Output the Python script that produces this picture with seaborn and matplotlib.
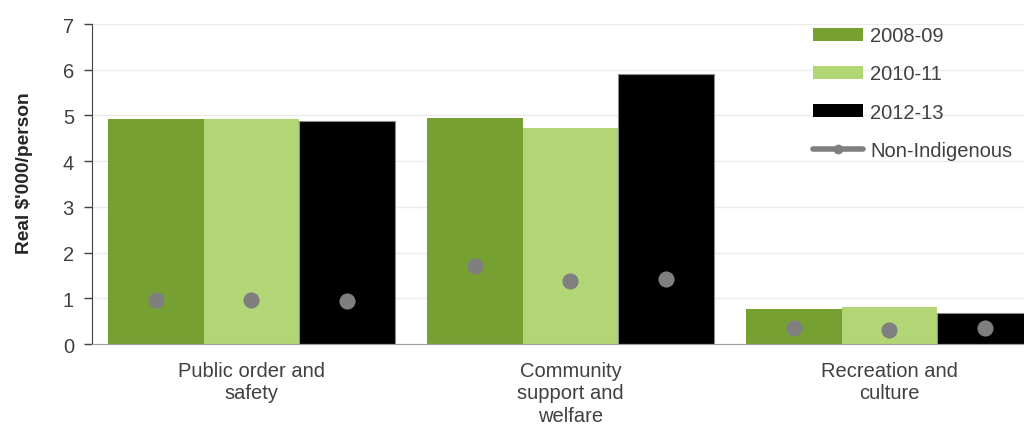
import pandas as pd
import matplotlib
matplotlib.use('Agg')
import matplotlib.pyplot as plt
from matplotlib.patches import Patch
from matplotlib.lines import Line2D
import seaborn as sns

# data
categories = ['Public order and\nsafety', 'Community\nsupport and\nwelfare', 'Recreation and\nculture']
years = ['2008-09', '2010-11', '2012-13']
indig_2008 = [4.93, 4.95, 0.76]
indig_2010 = [4.93, 4.73, 0.82]
indig_2012 = [4.87, 5.91, 0.67]
nonindig_2008 = [0.97, 1.70, 0.34]
nonindig_2010 = [0.97, 1.37, 0.31]
nonindig_2012 = [0.95, 1.42, 0.34]

colors = ['#77a033', '#b2d675', '#000000']
dot_color = '#7f7f7f'
text_color = '#404040'

rows = []
for yr, vals in zip(years, [indig_2008, indig_2010, indig_2012]):
    for cat, v in zip(categories, vals):
        rows.append({'category': cat, 'year': yr, 'value': v})
df = pd.DataFrame(rows)
non_vals = [nonindig_2008, nonindig_2010, nonindig_2012]

sns.set_style('white')
plt.rcParams['font.family'] = ['Liberation Sans', 'DejaVu Sans']
plt.rcParams['text.color'] = text_color
plt.rcParams['xtick.color'] = text_color
plt.rcParams['ytick.color'] = text_color

fig = plt.figure(figsize=(10.24, 4.27), dpi=100)
ax = fig.add_axes([0.0898, 0.192, 0.9346, 0.7494])

sns.barplot(data=df, x='category', y='value', hue='year', palette=colors,
            width=0.9, gap=0, saturation=1, legend=False, linewidth=0, ax=ax)

# non-Indigenous dots on top of each bar
for cont, vals in zip(ax.containers, non_vals):
    xs = [b.get_x() + b.get_width() / 2 for b in cont]
    ax.scatter(xs, vals, s=135, color=dot_color, zorder=5, linewidths=0)
for b in ax.containers[2]:
    b.set_edgecolor('#8c8c8c')
    b.set_linewidth(0.8)

ax.set_xlim(-0.5, 2.5)
ax.set_ylim(0, 7)
ax.set_yticks(range(0, 8))
ax.yaxis.grid(True, color='#ebebeb', linewidth=1)
ax.set_axisbelow(True)

sns.despine(ax=ax, top=True, right=True)
ax.spines['left'].set_color('#404040')
ax.spines['bottom'].set_color('#a0a0a0')
ax.tick_params(axis='y', length=6, width=1, color='#404040', labelsize=14.5, pad=7, direction='out', left=True)
ax.tick_params(axis='x', length=0, labelsize=14.5, pad=12)
for lbl in ax.get_xticklabels():
    lbl.set_linespacing(1.24)

ax.set_xlabel('')
ax.set_ylabel("Real $'000/person", fontsize=13.8, fontweight='bold')
ax.yaxis.set_label_coords(-0.062, 0.537)

handles = [Patch(facecolor=c, edgecolor='none') for c in colors]
handles.append(Line2D([0], [0], color=dot_color, linewidth=4, marker='o', markersize=6))
labels = years + ['Non-Indigenous']
fig.legend(handles, labels, loc='upper left', bbox_to_anchor=(0.794, 0.936),
           frameon=False, fontsize=14.5, handlelength=2.5, handleheight=0.6,
           handletextpad=0.35, labelspacing=0.95, borderaxespad=0, borderpad=0)

fig.savefig('out.png', dpi=100)
